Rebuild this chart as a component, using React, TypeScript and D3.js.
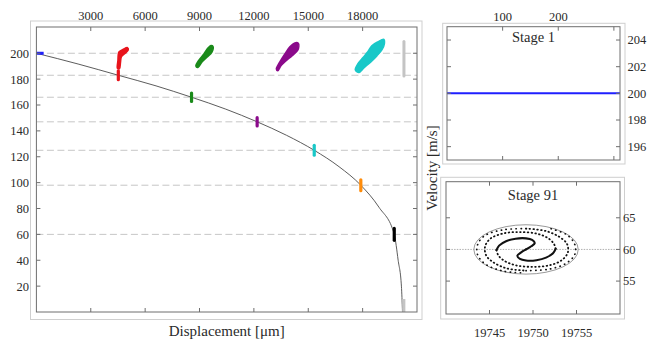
import * as d3 from 'd3';
import React from 'react';

// stage positions on the deceleration curve
const stageDisp = [0, 4520, 8560, 12180, 15330, 17900, 19745, 20270];
const stageVel = [200, 183, 166, 147, 125, 98, 60, 0];
const stageSpread = [0, 3.4, 3.3, 3.2, 3.8, 4.2, 4.6, 10];
const stageColors = ['#1f1fff', '#e8141c', '#1a8a1a', '#8b0a8b', '#19c8c8', '#ff8c0a', '#000000', '#c4c4c4'];

// deceleration curve
const curveDisp = [0, 2300, 4520, 6600, 8560, 10450, 12180, 13800, 15330, 16700, 17900, 18900, 19745, 19960, 20140, 20200];
const curveVel = [200, 191.7, 183, 174.8, 166, 156.8, 147, 136.6, 125, 112.3, 98, 81, 60, 40, 20, 0];

// clouds of particles above the curve
const redCloud = [[4555, 201], [4776, 202.9], [5024, 204.3], [5068, 202.6], [4886, 199.8], [4693, 197.5], [4638, 193], [4583, 188.2], [4473, 188.4], [4500, 194.4], [4517, 198.7]];
const greenCloud = [[8802, 190.1], [8968, 194.7], [9243, 199.4], [9464, 204], [9629, 206], [9740, 205.3], [9684, 200.9], [9408, 197], [9133, 193.2], [8912, 189]];
const purpleCloud = [[13242, 187.9], [13434, 193.3], [13710, 199.5], [13986, 204.9], [14261, 208], [14455, 207.6], [14427, 202.6], [14096, 198], [13765, 194.1], [13489, 190.3], [13324, 186.5]];
const cyanCloud = [[17598, 187.2], [17736, 191.8], [18012, 196.5], [18287, 201.1], [18508, 205.8], [18839, 208.8], [19170, 210.7], [19198, 207.3], [19060, 202.6], [18784, 198], [18453, 193.4], [18067, 188.7], [17791, 185.2]];
const clouds = [redCloud, greenCloud, purpleCloud, cyanCloud];
const cloudColors = ['#e8141c', '#1a8a1a', '#8b0a8b', '#19c8c8'];
const grayBar = [20280, 182.5, 209];

const mainXTicks = [3000, 6000, 9000, 12000, 15000, 18000];
const mainYTicks = [20, 40, 60, 80, 100, 120, 140, 160, 180, 200];

// stage 1 panel
const s1XTicks = [100, 200, 300];
const s1YTicks = [196, 198, 200, 202, 204];
const s1Vel = 200;

// stage 91 panel
const s91XTicks = [19745, 19750, 19755];
const s91YTicks = [55, 60, 65];
const s91Center = [19749.2, 60];
const s91Radius = [6, 3.9];
const armA = [[19749.2, 60.0], [19749.8, 60.5], [19750.2, 61.0], [19749.9, 61.5], [19749.2, 61.75], [19748.0, 61.7], [19746.9, 61.3], [19746.1, 60.6], [19745.8, 59.9], [19746.0, 59.1], [19746.7, 58.2], [19748.0, 57.5], [19750.0, 57.25], [19751.9, 57.5], [19753.3, 58.3], [19754.0, 59.5], [19753.9, 60.9], [19753.0, 62.0], [19751.5, 62.9], [19749.2, 63.3], [19746.6, 63.1], [19744.6, 62.3], [19743.7, 61.0], [19743.6, 59.3], [19744.4, 57.8], [19746.5, 56.6], [19749.0, 56.3]];
const armB = [[19749.2, 60.0], [19748.6, 59.5], [19748.2, 59.0], [19748.5, 58.5], [19749.2, 58.25], [19750.4, 58.3], [19751.5, 58.7], [19752.3, 59.4], [19752.6, 60.1], [19752.4, 60.9], [19751.7, 61.8], [19750.4, 62.5], [19748.4, 62.75], [19746.5, 62.5], [19745.1, 61.7], [19744.5, 60.5], [19744.6, 59.1], [19745.4, 58.0], [19747.0, 57.0], [19749.2, 56.65], [19751.9, 56.9], [19753.8, 57.8], [19754.8, 59.2], [19754.8, 60.8], [19753.9, 62.3], [19752.0, 63.3]];

const FONT = '"Liberation Serif", "DejaVu Serif", serif';
const AXIS = '#6e6e6e';
const TXT = '#2a2a2a';

const Frame = ({ x, y, xTicks, yTicks, outer }) => {
  const [x0, x1] = x.range();
  const [y0, y1] = y.range();
  const t = 4;
  return (
    <g>
      <rect x={outer[0]} y={outer[1]} width={outer[2] - outer[0]} height={outer[3] - outer[1]} fill="none" stroke="#cfcfcf" strokeWidth={1} />
      <rect x={x0} y={y1} width={x1 - x0} height={y0 - y1} fill="none" stroke={AXIS} strokeWidth={1} />
      {xTicks.map((d) => (
        <g key={'x' + d}>
          <line x1={x(d)} x2={x(d)} y1={y1} y2={y1 + t} stroke={AXIS} />
          <line x1={x(d)} x2={x(d)} y1={y0} y2={y0 - t} stroke={AXIS} />
        </g>
      ))}
      {yTicks.map((d) => (
        <g key={'y' + d}>
          <line x1={x0} x2={x0 + t} y1={y(d)} y2={y(d)} stroke={AXIS} />
          <line x1={x1} x2={x1 - t} y1={y(d)} y2={y(d)} stroke={AXIS} />
        </g>
      ))}
    </g>
  );
};

const Label = (props) => (
  <text fontSize={12.5} fill={TXT} style={{ fontFamily: FONT }} {...props} />
);

const App = () => {
  const W = 651;
  const H = 341;

  const xMain = d3.scaleLinear().domain([0, 21000]).range([36.4, 417]);
  const yMain = d3.scaleLinear().domain([0, 220.3]).range([312, 27]);
  const x1 = d3.scaleLinear().domain([0, 311]).range([447, 620]);
  const y1 = d3.scaleLinear().domain([195, 205]).range([160, 26.7]);
  const x91 = d3.scaleLinear().domain([19740, 19760]).range([446, 620]);
  const y91 = d3.scaleLinear().domain([49.8, 70.7]).range([314, 181.7]);

  const curveLine = d3.line<number>()
    .x((d, i) => xMain(curveDisp[i]))
    .y((d) => yMain(d))
    .curve(d3.curveMonotoneX);

  const cloudPath = d3.line<number[]>()
    .x((d) => xMain(d[0]))
    .y((d) => yMain(d[1]))
    .curve(d3.curveCatmullRomClosed);

  const armLine = d3.line<number[]>()
    .x((d) => x91(d[0]))
    .y((d) => y91(d[1]))
    .curve(d3.curveCatmullRom);

  const arms = [armA, armB];

  return (
    <svg width={W} height={H} style={{ position: 'absolute', left: 0, top: 0, background: '#fff', fontFamily: FONT }}>
      {/* ---------- main panel ---------- */}
      {stageVel.slice(0, 7).map((v) => (
        <line key={'dash' + v} x1={xMain(0)} x2={xMain(21000)} y1={yMain(v)} y2={yMain(v)}
          stroke="#c6c6c6" strokeWidth={1} strokeDasharray="7 3.5" />
      ))}
      <path d={curveLine(curveVel)} fill="none" stroke="#4a4a4a" strokeWidth={0.9} />

      {clouds.map((c, i) => (
        <path key={'cloud' + i} d={cloudPath(c)} fill={cloudColors[i]} stroke={cloudColors[i]}
          strokeWidth={1.6} strokeLinejoin="round" />
      ))}
      <line x1={xMain(grayBar[0])} x2={xMain(grayBar[0])} y1={yMain(grayBar[1])} y2={yMain(grayBar[2])}
        stroke="#c4c4c4" strokeWidth={3} strokeLinecap="round" />

      {/* stage 1 marker: horizontal */}
      <line x1={xMain(stageDisp[0])} x2={xMain(400)} y1={yMain(stageVel[0])} y2={yMain(stageVel[0])}
        stroke={stageColors[0]} strokeWidth={3} />
      {stageDisp.slice(1).map((dx, j) => {
        const i = j + 1;
        const last = i === stageDisp.length - 1;
        return (
          <line key={'mk' + i} x1={xMain(dx)} x2={xMain(dx)}
            y1={yMain(last ? stageVel[i] : stageVel[i] - stageSpread[i])}
            y2={yMain(stageVel[i] + stageSpread[i])}
            stroke={stageColors[i]} strokeWidth={3.2} strokeLinecap={last ? 'butt' : 'round'} />
        );
      })}

      <Frame x={xMain} y={yMain} xTicks={mainXTicks} yTicks={mainYTicks} outer={[30.5, 21, 422, 319.5]} />
      {mainXTicks.map((d) => (
        <Label key={'mxt' + d} x={xMain(d)} y={20} textAnchor="middle">{d}</Label>
      ))}
      {mainYTicks.map((d) => (
        <Label key={'myt' + d} x={29} y={yMain(d)} dy="0.35em" textAnchor="end">{d}</Label>
      ))}
      <Label x={(xMain.range()[0] + xMain.range()[1]) / 2} y={336} textAnchor="middle" fontSize={15}>
        Displacement [μm]
      </Label>

      {/* ---------- stage 1 panel ---------- */}
      <line x1={x1(0)} x2={x1(311)} y1={y1(s1Vel)} y2={y1(s1Vel)} stroke="#1f1fff" strokeWidth={2} />
      <Frame x={x1} y={y1} xTicks={s1XTicks} yTicks={s1YTicks} outer={[442.7, 23.3, 625, 164]} />
      {s1XTicks.slice(0, 2).map((d) => (
        <Label key={'s1x' + d} x={x1(d)} y={20.5} textAnchor="middle">{d}</Label>
      ))}
      {s1YTicks.map((d) => (
        <Label key={'s1y' + d} x={627.5} y={y1(d)} dy="0.35em" textAnchor="start">{d}</Label>
      ))}
      <Label x={533.5} y={42} textAnchor="middle" fontSize={14.5}>Stage 1</Label>

      {/* ---------- stage 91 panel ---------- */}
      <line x1={x91(19740)} x2={x91(19760)} y1={y91(60)} y2={y91(60)} stroke="#b0b0b0" strokeWidth={1} strokeDasharray="1.5 1.2" />
      <ellipse cx={x91(s91Center[0])} cy={y91(s91Center[1])}
        rx={x91(s91Center[0] + s91Radius[0]) - x91(s91Center[0])}
        ry={y91(s91Center[1]) - y91(s91Center[1] + s91Radius[1])}
        fill="none" stroke="#9a9a9a" strokeWidth={1} />
      {arms.map((a, i) => (
        <g key={'arm' + i}>
          <path d={armLine(a.slice(0, 9))} fill="none" stroke="#111" strokeWidth={2.1} strokeLinecap="round" />
          <path d={armLine(a.slice(8, 20))} fill="none" stroke="#111" strokeWidth={1.8} strokeLinecap="round" strokeDasharray="0.6 3.2" />
          <path d={armLine(a.slice(19))} fill="none" stroke="#111" strokeWidth={1.7} strokeLinecap="round" strokeDasharray="0.3 4.6" />
        </g>
      ))}
      <Frame x={x91} y={y91} xTicks={s91XTicks} yTicks={s91YTicks} outer={[440.7, 177.3, 624.5, 319]} />
      {s91XTicks.map((d) => (
        <Label key={'s9x' + d} x={x91(d)} y={336.5} textAnchor="middle">{d}</Label>
      ))}
      {s91YTicks.map((d) => (
        <Label key={'s9y' + d} x={623} y={y91(d)} dy="0.35em" textAnchor="start">{d}</Label>
      ))}
      <Label x={533} y={200} textAnchor="middle" fontSize={14.5}>Stage 91</Label>

      <Label transform={`translate(437,168) rotate(-90)`} textAnchor="middle" fontSize={15}>Velocity [m/s]</Label>
    </svg>
  );
};

export default App;
